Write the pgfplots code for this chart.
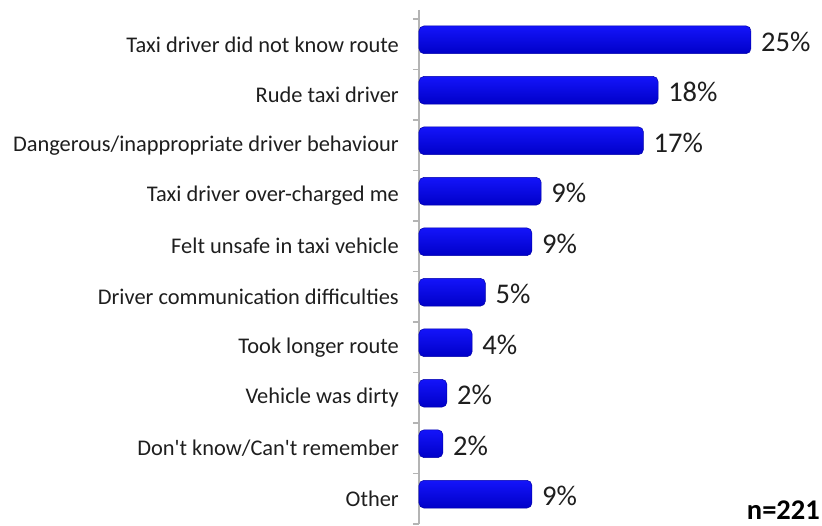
\documentclass[border=0pt]{standalone}
\usepackage{fontspec}
\setmainfont{Carlito}[Ligatures=TeXOff]
\usepackage{pgfplots}
\pgfplotsset{compat=1.18}
\definecolor{bTop}{RGB}{20,20,250}
\definecolor{bMid}{RGB}{140,140,255}
\definecolor{bBot}{RGB}{0,0,200}
\definecolor{bEdge}{RGB}{0,0,170}
\definecolor{axgray}{RGB}{180,180,180}
\definecolor{txt}{RGB}{30,30,30}
\pgfplotsset{cylbar/.style={draw=bEdge, line width=0.5pt, top color=bTop, middle color=bMid, bottom color=bBot, rounded corners=5pt}}
\begin{document}
\begin{tikzpicture}
\useasboundingbox (-419pt,-1pt) rectangle (403pt,524pt);
\begin{axis}[
  at={(0pt,0pt)}, anchor=south west,
  scale only axis, width=398.4pt, height=514pt,
  xmin=0, xmax=30, ymin=-0.68, ymax=9.5, y dir=reverse,
  axis x line=none, axis y line*=left,
  y axis line style={draw=axgray, line width=1.2pt, -},
  ytick={0,...,9},
  yticklabels={Taxi driver did not know route, Rude taxi driver, Dangerous/inappropriate driver behaviour, Taxi driver over-charged me, Felt unsafe in taxi vehicle, Driver communication difficulties, Took longer route, Vehicle was dirty, Don't know/Can't remember, Other},
  major tick length=0pt,
  minor ytick={-0.5,0.5,...,9.5},
  minor tick length=6pt, tick align=outside,
  minor tick style={draw=axgray, line width=1.2pt},
  yticklabel style={font=\fontsize{22.4}{26}\selectfont, text=txt, inner sep=0pt, xshift=-20pt},
  xbar, bar width=0.55, bar shift=-0.09,
  point meta=explicit symbolic,
  nodes near coords={\pgfplotspointmeta\%},
  nodes near coords style={font=\fontsize{28.5}{32}\selectfont, text=txt, anchor=west, inner sep=0pt, xshift=10pt, yshift=-2pt},
  clip=false,
]
\addplot[cylbar] coordinates {(25.0,0) [25]};
\addplot[cylbar] coordinates {(18.0,1) [18]};
\addplot[cylbar] coordinates {(16.9,2) [17]};
\addplot[cylbar] coordinates {(9.2,3) [9]};
\addplot[cylbar] coordinates {(8.5,4) [9]};
\addplot[cylbar] coordinates {(5.0,5) [5]};
\addplot[cylbar] coordinates {(4.0,6) [4]};
\addplot[cylbar] coordinates {(2.1,7) [2]};
\addplot[cylbar] coordinates {(1.8,8) [2]};
\addplot[cylbar] coordinates {(8.5,9) [9]};
\end{axis}
\node[anchor=base east, inner sep=0pt, font=\fontsize{28.5}{32}\selectfont\bfseries, text=black] at (401pt,5pt) {n=221};
\end{tikzpicture}
\end{document}
